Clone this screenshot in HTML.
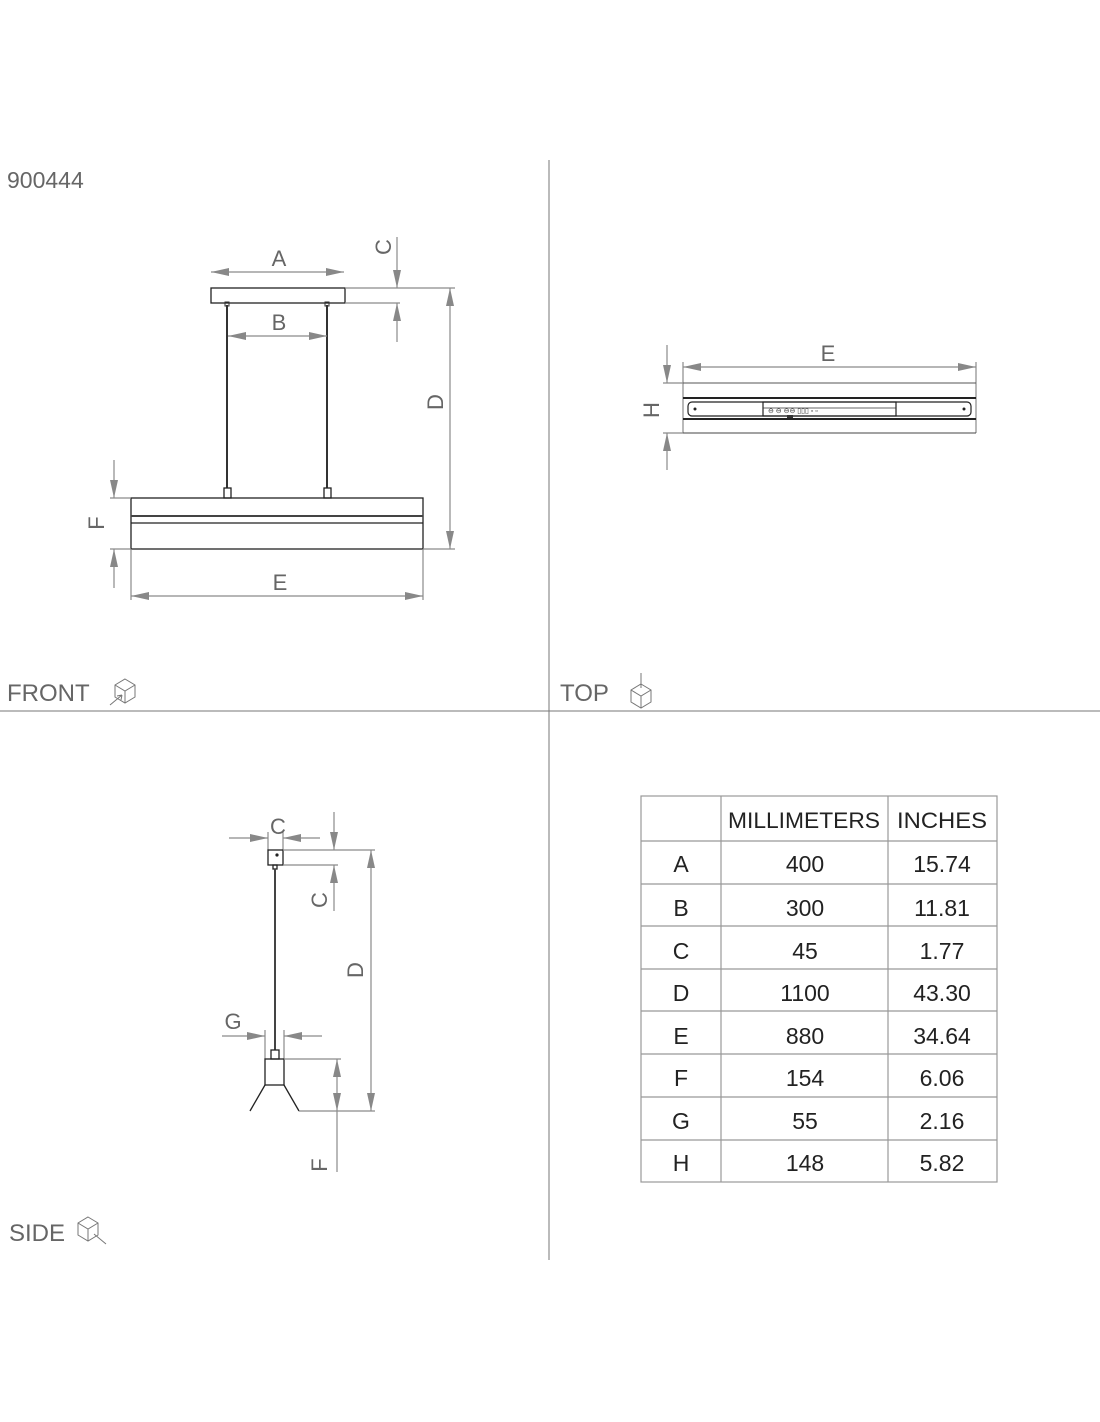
<!DOCTYPE html>
<html><head><meta charset="utf-8"><style>
html,body{margin:0;padding:0;background:#fff;}
svg{display:block;font-family:"Liberation Sans",sans-serif;}
.t{fill:#666;font-size:22px;}
.d{stroke:#8a8a8a;stroke-width:1.2;fill:none;}
.o{stroke:#222;stroke-width:1.3;fill:none;}
.tb{fill:#222;font-size:23px;text-anchor:middle;}
</style></head><body>
<svg width="1100" height="1422" viewBox="0 0 1100 1422">
<defs>
<marker id="ar" viewBox="0 0 18 8" refX="18" refY="4" markerWidth="18" markerHeight="8" markerUnits="userSpaceOnUse" orient="auto-start-reverse">
<path d="M0,0 L18,4 L0,8 z" fill="#888"/></marker>
<g id="cube"><path d="M0,-11 L10,-5 L10,7 L0,13 L-10,7 L-10,-5 Z M-10,-5 L0,1 L10,-5 M0,1 L0,13" fill="none" stroke="#777" stroke-width="1"/></g>
</defs>
<!-- separators -->
<line x1="549" y1="160" x2="549" y2="1260" stroke="#777" stroke-width="1"/>
<line x1="0" y1="711" x2="1100" y2="711" stroke="#777" stroke-width="1"/>
<text x="7" y="188" class="t" style="font-size:23px">900444</text>
<text x="7" y="701" class="t" style="font-size:24px">FRONT</text>
<use href="#cube" x="125" y="690"/><path d="M110,705 L122,695 M122,695 l-5,1 M122,695 l-1,5" stroke="#777" fill="none"/>
<text x="560" y="701" class="t" style="font-size:24px">TOP</text>
<use href="#cube" x="641" y="695"/><path d="M641,673 L641,688" stroke="#777"/>
<text x="9" y="1241" class="t" style="font-size:24px">SIDE</text>
<use href="#cube" x="88" y="1228"/><path d="M106,1244 L94,1234" stroke="#777"/>

<!-- FRONT -->
<line class="d" x1="211" y1="272" x2="344" y2="272" marker-start="url(#ar)" marker-end="url(#ar)"/>
<text x="279" y="266" class="t" text-anchor="middle">A</text>
<rect class="o" x="211" y="288" width="134" height="15"/>
<line class="d" x1="345" y1="288" x2="455" y2="288"/>
<line class="d" x1="345" y1="303" x2="400" y2="303"/>
<line class="d" x1="397" y1="237" x2="397" y2="288" marker-end="url(#ar)"/>
<line class="d" x1="397" y1="342" x2="397" y2="303" marker-end="url(#ar)"/>
<text class="t" transform="translate(391,247) rotate(-90)" text-anchor="middle">C</text>
<line class="d" x1="450" y1="288" x2="450" y2="549" marker-start="url(#ar)" marker-end="url(#ar)"/>
<text class="t" transform="translate(443,402) rotate(-90)" text-anchor="middle">D</text>
<line x1="227" y1="305" x2="227" y2="488" stroke="#333" stroke-width="2"/>
<line x1="327" y1="305" x2="327" y2="488" stroke="#333" stroke-width="2"/>
<rect x="225" y="302" width="4" height="4" fill="none" stroke="#333"/>
<rect x="325" y="302" width="4" height="4" fill="none" stroke="#333"/>
<line class="d" x1="228" y1="336" x2="327" y2="336" marker-start="url(#ar)" marker-end="url(#ar)"/>
<text x="279" y="330" class="t" text-anchor="middle">B</text>
<rect class="o" x="224" y="488" width="7" height="10"/>
<rect class="o" x="324" y="488" width="7" height="10"/>
<rect class="o" x="131" y="498" width="292" height="51"/>
<line x1="131" y1="516" x2="423" y2="516" stroke="#444" stroke-width="2"/>
<line class="o" x1="131" y1="523" x2="423" y2="523"/>
<line class="d" x1="423" y1="549" x2="455" y2="549"/>
<line class="d" x1="110" y1="498" x2="131" y2="498"/>
<line class="d" x1="110" y1="549" x2="131" y2="549"/>
<line class="d" x1="114" y1="460" x2="114" y2="498" marker-end="url(#ar)"/>
<line class="d" x1="114" y1="588" x2="114" y2="549" marker-end="url(#ar)"/>
<text class="t" transform="translate(104,523) rotate(-90)" text-anchor="middle">F</text>
<line class="d" x1="131" y1="549" x2="131" y2="600"/>
<line class="d" x1="423" y1="549" x2="423" y2="600"/>
<line class="d" x1="131" y1="596" x2="423" y2="596" marker-start="url(#ar)" marker-end="url(#ar)"/>
<text x="280" y="590" class="t" text-anchor="middle">E</text>

<!-- TOP -->
<line class="d" x1="683" y1="367" x2="976" y2="367" marker-start="url(#ar)" marker-end="url(#ar)"/>
<text x="828" y="361" class="t" text-anchor="middle">E</text>
<line class="d" x1="683" y1="362" x2="683" y2="433"/>
<line class="d" x1="976" y1="362" x2="976" y2="433"/>
<line x1="683" y1="383" x2="976" y2="383" stroke="#555" stroke-width="1"/>
<line x1="683" y1="398" x2="976" y2="398" stroke="#222" stroke-width="2"/>
<line x1="683" y1="419" x2="976" y2="419" stroke="#222" stroke-width="2"/>
<line x1="683" y1="433" x2="976" y2="433" stroke="#444" stroke-width="1"/>
<rect x="688" y="402" width="283" height="14" rx="4" fill="none" stroke="#222" stroke-width="1.2"/>
<rect x="763" y="402" width="133" height="14" fill="none" stroke="#222" stroke-width="1.2"/>
<line x1="763" y1="408" x2="896" y2="408" stroke="#333" stroke-width="0.8"/>
<circle cx="695" cy="409" r="1.5" fill="#222"/><circle cx="964" cy="409" r="1.5" fill="#222"/>
<text x="768" y="413" font-size="7" fill="#333">⊖    ⊖    ⊖⊖ ▯▯▯    ▫    ▫</text>
<rect x="787" y="415" width="6" height="3" fill="#333"/>
<line class="d" x1="663" y1="383" x2="683" y2="383"/>
<line class="d" x1="663" y1="433" x2="683" y2="433"/>
<line class="d" x1="667" y1="345" x2="667" y2="383" marker-end="url(#ar)"/>
<line class="d" x1="667" y1="470" x2="667" y2="433" marker-end="url(#ar)"/>
<text class="t" transform="translate(659,410) rotate(-90)" text-anchor="middle">H</text>

<!-- SIDE -->
<line class="d" x1="229" y1="838" x2="268" y2="838" marker-end="url(#ar)"/>
<line class="d" x1="320" y1="838" x2="283" y2="838" marker-end="url(#ar)"/>
<line class="d" x1="268" y1="832" x2="268" y2="850"/>
<line class="d" x1="283" y1="832" x2="283" y2="850"/>
<text x="278" y="834" class="t" text-anchor="middle">C</text>
<rect class="o" x="268" y="850" width="15" height="15"/>
<circle cx="277" cy="855" r="1.6" fill="#222"/>
<rect class="o" x="273" y="865" width="4" height="4"/>
<line x1="275" y1="869" x2="275" y2="1050" stroke="#444" stroke-width="2"/>
<line class="d" x1="283" y1="850" x2="375" y2="850"/>
<line class="d" x1="283" y1="865" x2="338" y2="865"/>
<line class="d" x1="334" y1="812" x2="334" y2="850" marker-end="url(#ar)"/>
<line class="d" x1="334" y1="911" x2="334" y2="865" marker-end="url(#ar)"/>
<text class="t" transform="translate(327,900) rotate(-90)" text-anchor="middle">C</text>
<line class="d" x1="371" y1="850" x2="371" y2="1111" marker-start="url(#ar)" marker-end="url(#ar)"/>
<text class="t" transform="translate(363,970) rotate(-90)" text-anchor="middle">D</text>
<line class="d" x1="222" y1="1036" x2="265" y2="1036" marker-end="url(#ar)"/>
<line class="d" x1="322" y1="1036" x2="284" y2="1036" marker-end="url(#ar)"/>
<line class="d" x1="265" y1="1030" x2="265" y2="1059"/>
<line class="d" x1="284" y1="1030" x2="284" y2="1059"/>
<text x="233" y="1029" class="t" text-anchor="middle">G</text>
<rect class="o" x="271" y="1050" width="8" height="9"/>
<rect class="o" x="265" y="1059" width="19" height="26"/>
<line class="o" x1="265" y1="1085" x2="250" y2="1111"/>
<line class="o" x1="284" y1="1085" x2="299" y2="1111"/>
<line class="d" x1="284" y1="1059" x2="341" y2="1059"/>
<line class="d" x1="299" y1="1111" x2="375" y2="1111"/>
<line class="d" x1="337" y1="1085" x2="337" y2="1059" marker-end="url(#ar)"/>
<line class="d" x1="337" y1="1085" x2="337" y2="1111" marker-end="url(#ar)"/>
<line class="d" x1="337" y1="1111" x2="337" y2="1172"/>
<text class="t" transform="translate(327,1165) rotate(-90)" text-anchor="middle">F</text>

<!-- TABLE -->
<g stroke="#999" stroke-width="1.2" fill="none">
<rect x="641" y="796" width="356" height="386"/>
<line x1="721" y1="796" x2="721" y2="1182"/>
<line x1="888" y1="796" x2="888" y2="1182"/>
<line x1="641" y1="841" x2="997" y2="841"/>
<line x1="641" y1="884" x2="997" y2="884"/>
<line x1="641" y1="926" x2="997" y2="926"/>
<line x1="641" y1="969" x2="997" y2="969"/>
<line x1="641" y1="1011" x2="997" y2="1011"/>
<line x1="641" y1="1054" x2="997" y2="1054"/>
<line x1="641" y1="1097" x2="997" y2="1097"/>
<line x1="641" y1="1140" x2="997" y2="1140"/>
</g>
<text x="804" y="828" class="tb" style="font-size:22px" textLength="152" lengthAdjust="spacingAndGlyphs">MILLIMETERS</text>
<text x="942" y="828" class="tb" style="font-size:22px" textLength="90" lengthAdjust="spacingAndGlyphs">INCHES</text>
<g class="tb">
<text x="681" y="872" class="tb">A</text><text x="805" y="872" class="tb">400</text><text x="942" y="872" class="tb">15.74</text>
<text x="681" y="916" class="tb">B</text><text x="805" y="916" class="tb">300</text><text x="942" y="916" class="tb">11.81</text>
<text x="681" y="959" class="tb">C</text><text x="805" y="959" class="tb">45</text><text x="942" y="959" class="tb">1.77</text>
<text x="681" y="1001" class="tb">D</text><text x="805" y="1001" class="tb">1100</text><text x="942" y="1001" class="tb">43.30</text>
<text x="681" y="1044" class="tb">E</text><text x="805" y="1044" class="tb">880</text><text x="942" y="1044" class="tb">34.64</text>
<text x="681" y="1086" class="tb">F</text><text x="805" y="1086" class="tb">154</text><text x="942" y="1086" class="tb">6.06</text>
<text x="681" y="1129" class="tb">G</text><text x="805" y="1129" class="tb">55</text><text x="942" y="1129" class="tb">2.16</text>
<text x="681" y="1171" class="tb">H</text><text x="805" y="1171" class="tb">148</text><text x="942" y="1171" class="tb">5.82</text>
</g>
</svg>
</body></html>
